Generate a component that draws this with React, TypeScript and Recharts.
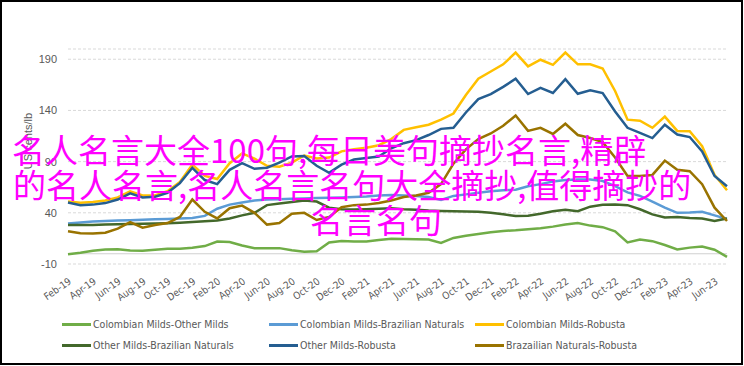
import { LineChart, Line, XAxis, YAxis, CartesianGrid, ReferenceLine } from "recharts";

// Monthly, Feb-19 .. Jul-23
const months = [
  "Feb-19", "Mar-19", "Apr-19", "May-19", "Jun-19", "Jul-19", "Aug-19", "Sep-19", "Oct-19", "Nov-19", "Dec-19",
  "Jan-20", "Feb-20", "Mar-20", "Apr-20", "May-20", "Jun-20", "Jul-20", "Aug-20", "Sep-20", "Oct-20", "Nov-20", "Dec-20",
  "Jan-21", "Feb-21", "Mar-21", "Apr-21", "May-21", "Jun-21", "Jul-21", "Aug-21", "Sep-21", "Oct-21", "Nov-21", "Dec-21",
  "Jan-22", "Feb-22", "Mar-22", "Apr-22", "May-22", "Jun-22", "Jul-22", "Aug-22", "Sep-22", "Oct-22", "Nov-22", "Dec-22",
  "Jan-23", "Feb-23", "Mar-23", "Apr-23", "May-23", "Jun-23", "Jul-23",
];

const cmOm = [
  -0.5, 1, 3, 4.2, 4.3, 3.2, 3, 3.8, 4.8, 5, 5.8, 7.5, 12, 11.5, 8, 5.5, 5.5, 5.5, 3.5, 2, 2.5, 11, 12.5, 12, 12, 13.5,
  14.6, 14.5, 14.2, 14, 10.5, 15.5, 17.5, 19.3, 21, 22.3, 23, 24, 25, 26.5, 28.5, 30, 27.5, 26, 22, 11, 14, 12.3, 8.5,
  4.2, 6, 7, 4, -3,
];
const cmBn = [
  29.5, 30.5, 31.5, 32, 32.5, 32.8, 33.2, 33.6, 34, 34.5, 35, 37, 44, 48, 50, 52, 53, 53.3, 53.7, 54, 54.4, 54.6, 55,
  55.5, 56, 57, 57.5, 57, 56.5, 55.5, 52.5, 56.5, 58, 59.5, 61, 62, 62.5, 66, 68, 70.5, 72, 72.5, 72.5, 71, 66, 60, 56.5,
  51, 45, 40, 40.3, 41, 37.5, 34,
];
const cmR = [
  51, 49.8, 50.5, 52, 55, 61, 57, 57, 61, 70, 87, 76, 73, 88.5, 98, 93, 86, 85, 89, 96, 93, 94, 100, 102, 103.5, 106,
  112, 121, 123.5, 126, 131, 137, 155, 171, 178, 185, 196.5, 183, 189.5, 184.5, 196.5, 185, 185, 181, 159, 131, 130, 123,
  134, 120, 119.7, 105, 77, 62,
];
const omBn = [
  28, 28, 28, 28.5, 28.8, 29, 29.2, 29.5, 29.8, 30.3, 31, 31.8, 32.5, 34.5, 37.5, 40, 47.5, 49, 50.5, 52, 51, 45, 43.5,
  43.2, 43.5, 44, 44.5, 43.5, 43, 42.2, 41.8, 41.6, 41.4, 41, 40, 38.5, 36.8, 37.2, 39, 41.5, 43, 41.5, 46, 47.8, 48,
  47.5, 43.5, 38.5, 35.5, 35.8, 35, 34.5, 32, 34.5,
];
const omR = [
  50, 47.5, 48, 49.5, 53, 59, 55, 55.7, 59.5, 69, 84, 72, 68, 82, 88.5, 83, 84, 89, 95, 95.5, 86, 79, 87, 92, 93.6, 95,
  103, 108, 111, 116, 122, 123, 138, 151, 156, 163, 171, 156, 162, 157, 170.6, 156.3, 159.6, 157, 139, 123, 118, 113,
  126, 116.4, 114, 100, 76, 66,
];
const bnR = [
  22, 20, 19.8, 20.5, 24.5, 31, 25.5, 28, 30, 36, 53, 41, 34.5, 44.5, 47, 40, 28.5, 30, 39, 40, 33, 36, 45.5, 47.5, 48,
  49.5, 52, 55.5, 57, 59.5, 68, 88, 102, 112, 117.5, 125, 135, 120, 123, 117, 127, 116, 113, 109, 94, 76, 76, 77, 91, 82,
  80.6, 68, 45, 32,
];

const yTicks = [-10, 40, 90, 140, 190];

const series = [
  { key: "cmOm", name: "Colombian Milds-Other Milds", color: "#70AD47", values: cmOm },
  { key: "cmBn", name: "Colombian Milds-Brazilian Naturals", color: "#5B9BD5", values: cmBn },
  { key: "cmR", name: "Colombian Milds-Robusta", color: "#FFC000", values: cmR },
  { key: "omBn", name: "Other Milds-Brazilian Naturals", color: "#43682B", values: omBn },
  { key: "omR", name: "Other Milds-Robusta", color: "#255E91", values: omR },
  { key: "bnR", name: "Brazailian Naturals-Robusta", color: "#997300", values: bnR },
];

const overlayLines = [
  "名人名言大全100句,每日美句摘抄名言,精辟",
  "的名人名言,名人名言名句大全摘抄,值得摘抄的",
  "名言名句",
];

const data = months.map((m, i) => {
  const row: Record<string, string | number> = { month: m };
  series.forEach((s) => (row[s.key] = s.values[i]));
  return row;
});

const narrow = "'Liberation Sans Narrow', 'DejaVu Sans Condensed', 'Roboto Condensed', Roboto, sans-serif";

const XTick = (props: any) => {
  const { x, y, payload } = props;
  return (
    <g transform={`translate(${x + 2},${y + 8}) rotate(-35)`}>
      <text textAnchor="end" dy="0.35em" fontSize={10} fill="#595959" fontFamily={narrow}>
        {payload.value}
      </text>
    </g>
  );
};

const legendCols = [62, 269, 475];
const legendRows = [324, 345];

export default function App() {
  return (
    <div style={{ position: "absolute", left: 0, top: 0, width: 744, height: 366, background: "#fff", overflow: "hidden" }}>
      <div
        style={{
          position: "absolute",
          left: 0,
          top: 0,
          width: 743,
          height: 365,
          border: "2px solid #000",
          boxSizing: "border-box",
        }}
      />
      <div style={{ position: "absolute", left: 0, top: 0 }}>
        <LineChart width={744} height={366} data={data} margin={{ top: 49, right: 17, bottom: 62, left: 8 }}>
          <CartesianGrid vertical={false} strokeDasharray="3 2" stroke="#D9D9D9" />
          <XAxis dataKey="month" interval={1} tick={<XTick />} axisLine={false} tickLine={false} height={40} />
          <YAxis
            domain={[-10, 200]}
            allowDataOverflow
            ticks={yTicks}
            width={60}
            axisLine={false}
            tickLine={false}
            tickSize={0}
            tickMargin={11}
            tick={{ fontSize: 11, fill: "#595959", fontFamily: "'Liberation Sans', Arial, sans-serif" }}
          />
          <ReferenceLine y={0} stroke="#D0D0D0" strokeWidth={1} />
          {series.map((s) => (
            <Line
              key={s.key}
              dataKey={s.key}
              name={s.name}
              stroke={s.color}
              strokeWidth={2.5}
              dot={false}
              isAnimationActive={false}
            />
          ))}
        </LineChart>
      </div>
      <div
        style={{
          position: "absolute",
          left: 28,
          top: 141,
          transform: "translate(-50%, -50%) rotate(-90deg)",
          fontSize: 11,
          color: "#595959",
          fontFamily: "'Liberation Sans', Arial, sans-serif",
          whiteSpace: "nowrap",
        }}
      >
        US cents/lb
      </div>
      {series.map((s, i) => (
        <div
          key={s.key}
          style={{
            position: "absolute",
            left: legendCols[i % 3],
            top: legendRows[Math.floor(i / 3)] - 8,
            height: 16,
            display: "flex",
            alignItems: "center",
            fontSize: 10.5,
            color: "#595959",
            fontFamily: narrow,
            whiteSpace: "nowrap",
          }}
        >
          <span style={{ display: "inline-block", width: 29, height: 3, background: s.color, marginRight: 2 }} />
          {s.name}
        </div>
      ))}
      {overlayLines.map((t, i) => (
        <div
          key={i}
          style={{
            position: "absolute",
            left: [12, 13, 310][i],
            top: 132 + i * 35,
            fontSize: 33,
            lineHeight: "35px",
            color: "#FF00FF",
            fontFamily: "'Noto Sans CJK SC', sans-serif",
            whiteSpace: "nowrap",
          }}
        >
          {t}
        </div>
      ))}
    </div>
  );
}
